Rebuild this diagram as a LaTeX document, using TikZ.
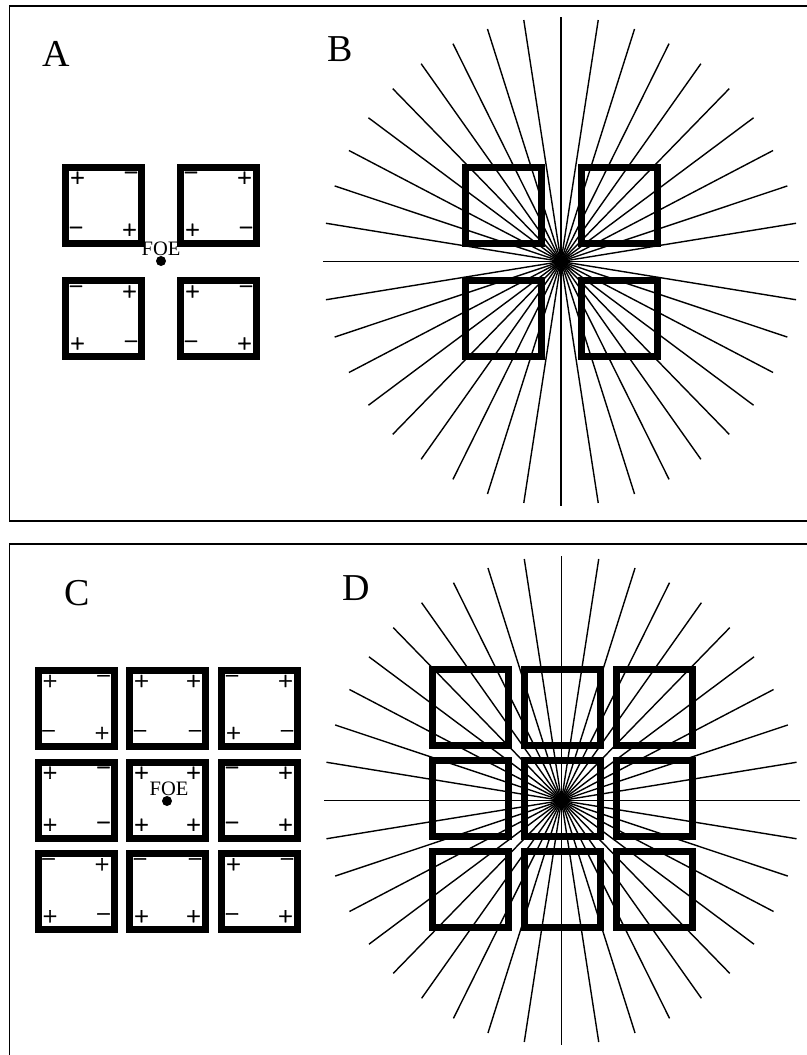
\documentclass[tikz,border=0pt]{standalone}
\usepackage{fontspec}
\setmainfont{Liberation Serif}
\newfontfamily\sgnfont[FakeBold=1.2]{Liberation Serif}
\tikzset{
  frame/.style={draw=black, line width=1.7pt},
  sqline/.style={draw=black, line width=7pt, line join=miter},
  ray/.style={draw=black, line width=1.4pt},
  sgn/.style={inner sep=0pt, font=\sgnfont\fontsize{26}{26}\selectfont},
  lab/.style={inner sep=0pt, font=\fontsize{38}{38}\selectfont},
  foe/.style={inner sep=0pt, font=\fontsize{20.5}{20.5}\selectfont},
  dotfill/.style={fill=black}
}
% sign at square centre (#1,#2), direction (#3,#4), sign p or m
\newcommand\sgnat[5]{%
  \ifx p#5\relax
    \node[sgn] at ({#1+#3*26},{#2+#4*26}) {+};%
  \else
    \ifnum#4<0\relax
      \node[sgn] at ({#1+#3*27.5},{#2-28.5}) {−};%
    \else
      \node[sgn] at ({#1+#3*27.5},{#2+26.5}) {−};%
    \fi
  \fi}
\newcommand\plainbox[2]{%
  \draw[sqline] ({#1-38},{#2-38}) rectangle ({#1+38},{#2+38});}
% centre x, centre y, TL, TR, BL, BR
\newcommand\sgnbox[6]{%
  \plainbox{#1}{#2}%
  \sgnat{#1}{#2}{-1}{-1}{#3}%
  \sgnat{#1}{#2}{1}{-1}{#4}%
  \sgnat{#1}{#2}{-1}{1}{#5}%
  \sgnat{#1}{#2}{1}{1}{#6}}
\begin{document}
\begin{tikzpicture}[x=1pt,y=-1pt]
\useasboundingbox (0,0) rectangle (806,1055);
% frames
\draw[frame] (9.5,6) rectangle (840,521);
\draw[frame] (9.5,544) rectangle (840,1090);
% labels
\node[lab] (la) at (56.5,54) {A};
\node[lab] (lb) at (340.5,49.5) {B};
\node[lab] (lc) at (77,593.5) {C};
\node[lab] (ld) at (356.7,588.5) {D};
% ---------- Panel A ----------
\sgnbox{103.5}{205}{p}{m}{m}{p}
\sgnbox{218.5}{205}{m}{p}{p}{m}
\sgnbox{103.5}{318.8}{m}{p}{p}{m}
\sgnbox{218.5}{318.8}{p}{m}{m}{p}
\fill[dotfill] (161,261) circle (5);
\node[foe] (foea) at (161,248.5) {FOE};
% ---------- Panel B ----------
\coordinate (cb) at (561,261.5);
\foreach \a in {0,9,...,351}
  {\draw[ray] (cb) -- ++({238*cos(\a)},{244.5*sin(\a)});}
\plainbox{503.5}{205.5}
\plainbox{619.5}{205.5}
\plainbox{503.5}{318.5}
\plainbox{619.5}{318.5}
% ---------- Panel C ----------
\sgnbox{76}{708.3}{p}{m}{m}{p}
\sgnbox{167.5}{708.3}{p}{p}{m}{m}
\sgnbox{259.5}{708.3}{m}{p}{p}{m}
\sgnbox{76}{800}{p}{m}{p}{m}
\sgnbox{167.5}{800}{p}{p}{p}{p}
\sgnbox{259.5}{800}{m}{p}{m}{p}
\sgnbox{76}{891.5}{m}{p}{p}{m}
\sgnbox{167.5}{891.5}{m}{m}{p}{p}
\sgnbox{259.5}{891.5}{p}{m}{m}{p}
\fill[dotfill] (167,801) circle (5);
\node[foe] (foec) at (169,789) {FOE};
% ---------- Panel D ----------
\coordinate (cd) at (561.5,800.5);
\foreach \a in {0,9,...,351}
  {\draw[ray] (cd) -- ++({238*cos(\a)},{244.5*sin(\a)});}
\foreach \x in {470,562.3,654}
  {\foreach \y in {707,798.3,889.5}
    {\plainbox{\x}{\y}}}
\end{tikzpicture}
\end{document}
